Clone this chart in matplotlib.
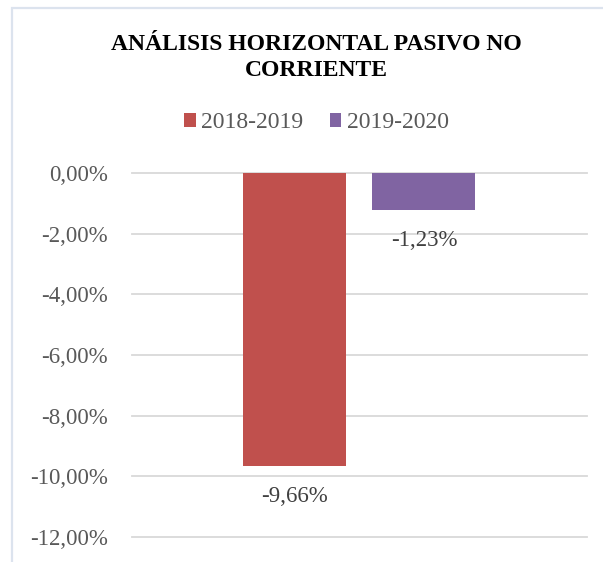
import matplotlib.pyplot as plt
from matplotlib.patches import Rectangle
from matplotlib.ticker import FuncFormatter

plt.rcParams['font.family'] = ['Liberation Serif', 'DejaVu Serif']

series = ['2018-2019', '2019-2020']
values = [-9.66, -1.23]
colors = ['#C0504D', '#8064A2']
yticks = [0, -2, -4, -6, -8, -10, -12]

W, H = 603, 562
fig = plt.figure(figsize=(W / 100, H / 100), dpi=100)
ax = fig.add_axes([131.5 / W, 1 - 537 / H, (587 - 131.5) / W, (537 - 173) / H])

# chart frame (cut at right/bottom like the original)
fig.patches.append(Rectangle((11.7 / W, -0.1), 1.2, 1.1 - 7.5 / H, transform=fig.transFigure,
                             fill=False, edgecolor='#DCE3EE', linewidth=1.6, zorder=0))

bw = 0.226
offs = [-0.1425, 0.142]
for off, v, c, name in zip(offs, values, colors, series):
    ax.bar(off, v, width=bw, color=c, label=name, zorder=3)
    ax.annotate(f'{v:.2f}%'.replace('.', ','), (off, v), xytext=(0, -22),
                textcoords='offset points', ha='center', va='center',
                fontsize=16.5, color='#404040')

ax.set_xlim(-0.5, 0.5)
ax.set_ylim(-12, 0)
ax.set_yticks(yticks)
ax.yaxis.set_major_formatter(FuncFormatter(lambda v, p: f'{v:.2f}%'.replace('.', ',').replace('-0,00', '0,00')))
ax.tick_params(axis='y', length=0, pad=17, labelsize=16.5, labelcolor='#595959')
ax.set_xticks([])
ax.grid(axis='y', color='#D9D9D9', linewidth=1.3, zorder=0)
for s in ax.spines.values():
    s.set_visible(False)
for gl in ax.get_ygridlines():
    gl.set_clip_on(False)

fig.text(316 / W, 1 - 57.5 / H, 'ANÁLISIS HORIZONTAL PASIVO NO\nCORRIENTE', ha='center', va='center',
         fontsize=17, fontweight='bold', color='black', linespacing=1.3)

fig.legend(loc='center', bbox_to_anchor=(316.5 / W, 1 - 123 / H), ncol=2, frameon=False,
           fontsize=17, handlelength=0.5, handleheight=0.5, handletextpad=0.25,
           columnspacing=1.1, labelcolor='#595959')

fig.savefig('out.png', dpi=100)
